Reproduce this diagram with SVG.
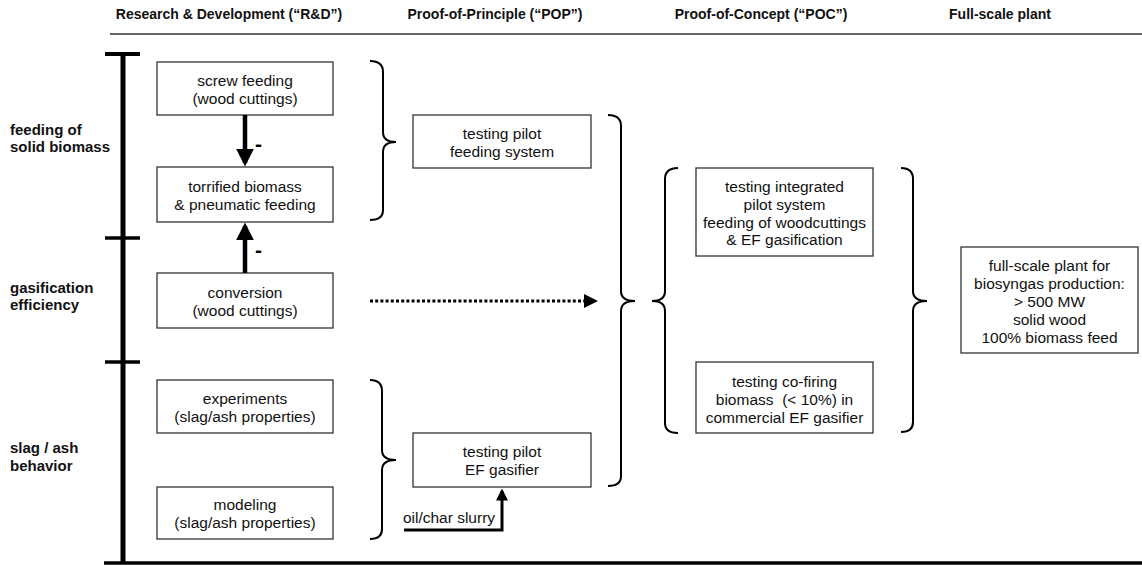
<svg xmlns="http://www.w3.org/2000/svg" width="1142" height="566" viewBox="0 0 1142 566">
<defs>
<style>
.hdr{font-family:"Liberation Sans",Arial,sans-serif;font-size:14px;font-weight:bold;fill:#111;text-anchor:middle}
.lbl{font-family:"Liberation Sans",Arial,sans-serif;font-size:15px;font-weight:bold;fill:#111}
.minus{font-family:"Liberation Sans",Arial,sans-serif;font-size:21px;font-weight:bold;fill:#000}
.t{font-family:"Liberation Sans",Arial,sans-serif;font-size:15.5px;fill:#111;text-anchor:middle;white-space:pre}
.box{fill:#fff;stroke:#333;stroke-width:1.3}
.brace{fill:none;stroke:#000;stroke-width:2}
.thick{fill:none;stroke:#000;stroke-width:4.5}
</style>
<marker id="ah" markerWidth="4" markerHeight="4" refX="3.2" refY="2" orient="auto" markerUnits="strokeWidth">
<path d="M0,0 L4,2 L0,4 Z" fill="#000"/>
</marker>
</defs>
<rect width="1142" height="566" fill="#fff"/>

<g id="header">
<text class="hdr" x="229" y="19">Research &amp; Development (“R&amp;D”)</text>
<text class="hdr" x="495" y="19">Proof-of-Principle (“POP”)</text>
<text class="hdr" x="761" y="19">Proof-of-Concept (“POC”)</text>
<text class="hdr" x="1000" y="19">Full-scale plant</text>
<line x1="110" y1="34" x2="1142" y2="34" stroke="#333" stroke-width="1.6"/>
</g>

<g id="axis">
<line x1="123" y1="53" x2="123" y2="564" stroke="#000" stroke-width="5"/>
<line x1="105" y1="54" x2="140" y2="54" stroke="#000" stroke-width="4"/>
<line x1="105" y1="238" x2="140" y2="238" stroke="#000" stroke-width="3.5"/>
<line x1="105" y1="362" x2="140" y2="362" stroke="#000" stroke-width="3.5"/>
<line x1="104" y1="563" x2="1142" y2="563" stroke="#000" stroke-width="3.5"/>
<text class="lbl" x="10" y="135">feeding of</text>
<text class="lbl" x="10" y="152">solid biomass</text>
<text class="lbl" x="10" y="293">gasification</text>
<text class="lbl" x="10" y="310">efficiency</text>
<text class="lbl" x="10" y="453">slag / ash</text>
<text class="lbl" x="10" y="471">behavior</text>
</g>

<g id="screw">
<rect class="box" x="157" y="62" width="176" height="53"/>
<text class="t" x="245" y="86">screw feeding</text>
<text class="t" x="245" y="104">(wood cuttings)</text>
</g>
<g id="torrified">
<rect class="box" x="157" y="167" width="176" height="55"/>
<text class="t" x="245" y="191.5">torrified biomass</text>
<text class="t" x="245" y="209.5">&amp; pneumatic feeding</text>
</g>
<g id="conversion">
<rect class="box" x="157" y="273" width="176" height="55"/>
<text class="t" x="245" y="297.5">conversion</text>
<text class="t" x="245" y="315.5">(wood cuttings)</text>
</g>
<g id="experiments">
<rect class="box" x="157" y="380" width="176" height="53"/>
<text class="t" x="245" y="403.5">experiments</text>
<text class="t" x="245" y="421.5">(slag/ash properties)</text>
</g>
<g id="modeling">
<rect class="box" x="157" y="487" width="176" height="52"/>
<text class="t" x="245" y="510">modeling</text>
<text class="t" x="245" y="528">(slag/ash properties)</text>
</g>
<g id="pop-feeding">
<rect class="box" x="413" y="115" width="178" height="53"/>
<text class="t" x="502" y="138.5">testing pilot</text>
<text class="t" x="502" y="156.5">feeding system</text>
</g>
<g id="pop-gasifier">
<rect class="box" x="413" y="433" width="178" height="54"/>
<text class="t" x="502" y="457">testing pilot</text>
<text class="t" x="502" y="475">EF gasifier</text>
</g>
<g id="poc-integrated">
<rect class="box" x="696" y="168" width="177" height="88"/>
<text class="t" x="784.5" y="192">testing integrated</text>
<text class="t" x="784.5" y="210">pilot system</text>
<text class="t" x="784.5" y="228">feeding of woodcuttings</text>
<text class="t" x="784.5" y="245">&amp; EF gasification</text>
</g>
<g id="poc-cofiring">
<rect class="box" x="696" y="362" width="177" height="71"/>
<text class="t" x="784.5" y="387">testing co-firing</text>
<text class="t" x="784.5" y="405" xml:space="preserve">biomass  (&lt; 10%) in</text>
<text class="t" x="784.5" y="423">commercial EF gasifier</text>
</g>
<g id="fullscale">
<rect class="box" x="961" y="247" width="177" height="106"/>
<text class="t" x="1049.5" y="271">full-scale plant for</text>
<text class="t" x="1049.5" y="289">biosyngas production:</text>
<text class="t" x="1049.5" y="307">&gt; 500 MW</text>
<text class="t" x="1049.5" y="325">solid wood</text>
<text class="t" x="1049.5" y="343">100% biomass feed</text>
</g>

<g id="connectors">
<path class="thick" d="M245,115 L245,163" marker-end="url(#ah)"/>
<path class="thick" d="M245,273 L245,226" marker-end="url(#ah)"/>
<text class="minus" x="255" y="151">-</text>
<text class="minus" x="255" y="257">-</text>
<path d="M370,301 L588,301" fill="none" stroke="#000" stroke-width="3" stroke-dasharray="3,2.2"/>
<path d="M584,294 L598,301 L584,308 Z" fill="#000"/>
<text class="t" x="449" y="523">oil/char slurry</text>
<path d="M404,530 L502,530 L502,491" fill="none" stroke="#000" stroke-width="3" marker-end="url(#ah)"/>
<path class="brace" d="M370,61 Q383,61 383,72 L383,132 Q383,142 396,142 Q383,142 383,152 L383,210 Q383,220 370,220"/>
<path class="brace" d="M370,380 Q382,380 382,391 L382,450 Q382,460 396,460 Q382,460 382,470 L382,529 Q382,539 370,539"/>
<path class="brace" d="M608,115 Q621,115 621,126 L621,291 Q621,301 635,301 Q621,301 621,311 L621,476 Q621,486 608,486"/>
<path class="brace" d="M678,168 Q665,168 665,179 L665,291 Q665,301 652,301 Q665,301 665,311 L665,423 Q665,433 678,433"/>
<path class="brace" d="M901,168 Q913,168 913,179 L913,291 Q913,301 927,301 Q913,301 913,311 L913,422 Q913,432 901,432"/>
</g>
</svg>
